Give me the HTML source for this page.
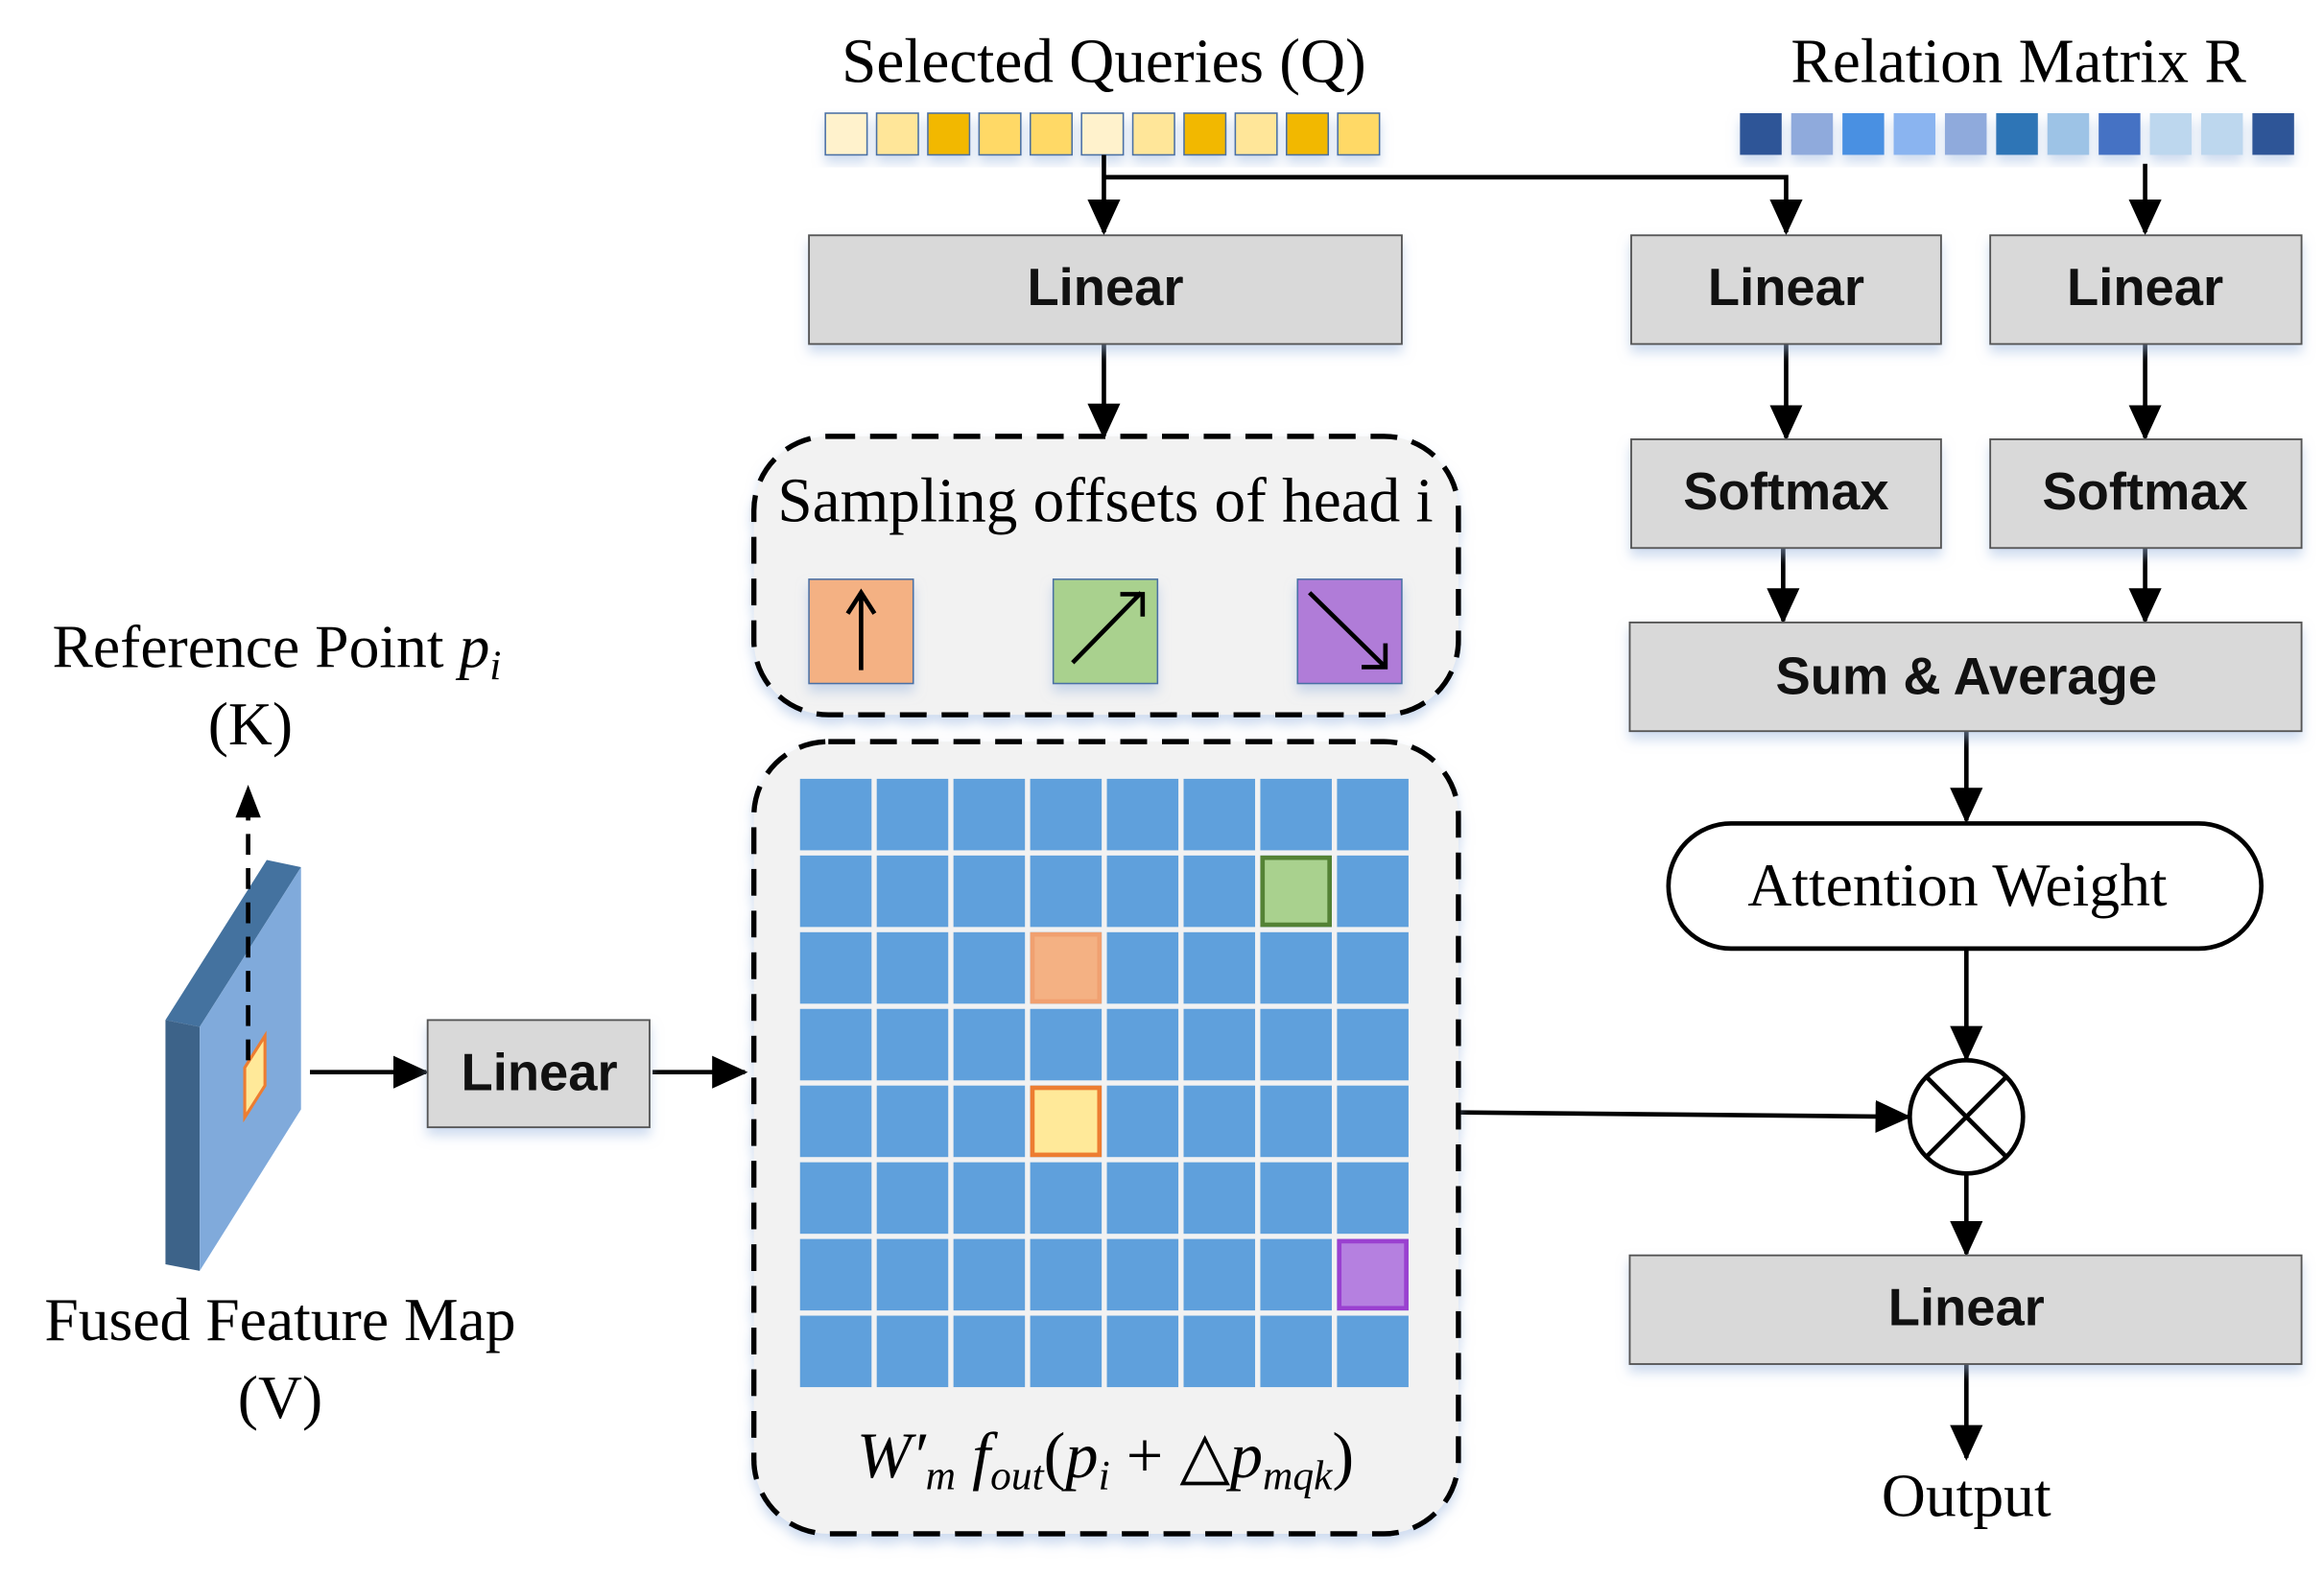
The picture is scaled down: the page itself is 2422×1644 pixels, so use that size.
<!DOCTYPE html>
<html><head><meta charset="utf-8"><style>html,body{margin:0;padding:0;background:#fff}svg{display:block}</style></head>
<body>
<svg width="2422" height="1644" viewBox="0 0 1560 1059" xmlns="http://www.w3.org/2000/svg">
<defs>
<marker id="ah2" markerWidth="24" markerHeight="22" refX="22" refY="11" orient="auto" markerUnits="userSpaceOnUse" viewBox="0 0 24 22">
<path d="M0,0 L24,11 L0,22 z" fill="#000"/></marker>
<filter id="sh" x="-10%" y="-10%" width="120%" height="140%"><feDropShadow dx="0" dy="5" stdDeviation="4" flood-color="#9DB8E0" flood-opacity="0.5"/></filter>
</defs>
<g font-family="Liberation Serif, serif" fill="#000">
<text x="741" y="55" font-size="42" text-anchor="middle">Selected Queries (Q)</text>
<text x="1355" y="55" font-size="42" text-anchor="middle">Relation Matrix R</text>
</g>
<g stroke="#4A6FA5" stroke-width="1" filter="url(#sh)">
<rect x="554" y="76" width="28" height="28" fill="#FFF2CC"/>
<rect x="588.4" y="76" width="28" height="28" fill="#FFE699"/>
<rect x="622.8" y="76" width="28" height="28" fill="#F2B800"/>
<rect x="657.2" y="76" width="28" height="28" fill="#FFD966"/>
<rect x="691.6" y="76" width="28" height="28" fill="#FFD966"/>
<rect x="726" y="76" width="28" height="28" fill="#FFF2CC"/>
<rect x="760.4" y="76" width="28" height="28" fill="#FFE699"/>
<rect x="794.8" y="76" width="28" height="28" fill="#F2B800"/>
<rect x="829.2" y="76" width="28" height="28" fill="#FFE699"/>
<rect x="863.6" y="76" width="28" height="28" fill="#F2B800"/>
<rect x="898" y="76" width="28" height="28" fill="#FFD966"/>
</g>
<g stroke="none" filter="url(#sh)">
<rect x="1168" y="76" width="28" height="28" fill="#2F5597"/>
<rect x="1202.4" y="76" width="28" height="28" fill="#8FAADC"/>
<rect x="1236.8" y="76" width="28" height="28" fill="#4A90E2"/>
<rect x="1271.2" y="76" width="28" height="28" fill="#8AB4F0"/>
<rect x="1305.6" y="76" width="28" height="28" fill="#8FAADC"/>
<rect x="1340" y="76" width="28" height="28" fill="#2E75B6"/>
<rect x="1374.4" y="76" width="28" height="28" fill="#9DC3E6"/>
<rect x="1408.8" y="76" width="28" height="28" fill="#4472C4"/>
<rect x="1443.2" y="76" width="28" height="28" fill="#BDD7EE"/>
<rect x="1477.6" y="76" width="28" height="28" fill="#BDD7EE"/>
<rect x="1512" y="76" width="28" height="28" fill="#2F5597"/>
</g>

<g stroke="#000" stroke-width="3" fill="none">
<path d="M741,104 V156" marker-end="url(#ah2)"/>
<path d="M741,119 H1199 V156" marker-end="url(#ah2)"/>
<path d="M1440,110 V156" marker-end="url(#ah2)"/>
<path d="M741,231 V293" marker-end="url(#ah2)"/>
<path d="M1199,231 V294" marker-end="url(#ah2)"/>
<path d="M1440,231 V294" marker-end="url(#ah2)"/>
<path d="M1197,368 V417" marker-end="url(#ah2)"/>
<path d="M1440,368 V417" marker-end="url(#ah2)"/>
<path d="M1320,491 V551" marker-end="url(#ah2)"/>
<path d="M1320,637 V711" marker-end="url(#ah2)"/>
<path d="M980,747 L1281,750" marker-end="url(#ah2)"/>
<path d="M1320,788 V842" marker-end="url(#ah2)"/>
<path d="M1320,916 V979" marker-end="url(#ah2)"/>
<path d="M208,720 H286" marker-end="url(#ah2)"/>
<path d="M438,720 H500" marker-end="url(#ah2)"/>
</g>

<g fill="#D9D9D9" stroke="#555" stroke-width="1.2" filter="url(#sh)">
<rect x="543" y="158" width="398" height="73"/>
<rect x="1095" y="158" width="208" height="73"/>
<rect x="1336" y="158" width="209" height="73"/>
<rect x="1095" y="295" width="208" height="73"/>
<rect x="1336" y="295" width="209" height="73"/>
<rect x="1094" y="418" width="451" height="73"/>
<rect x="1094" y="843" width="451" height="73"/>
<rect x="287" y="685" width="149" height="72"/>
</g>
<g font-family="Liberation Sans, sans-serif" font-weight="bold" font-size="35" text-anchor="middle" fill="#111">
<text x="742" y="205">Linear</text>
<text x="1199" y="205">Linear</text>
<text x="1440" y="205">Linear</text>
<text x="1199" y="342">Softmax</text>
<text x="1440" y="342">Softmax</text>
<text x="1320" y="466">Sum &amp; Average</text>
<text x="1320" y="890">Linear</text>
<text x="362" y="732">Linear</text>
</g>

<rect x="1120" y="553" width="398" height="84" rx="42" fill="#fff" stroke="#000" stroke-width="3"/>
<text x="1314" y="608" font-family="Liberation Serif, serif" font-size="41" text-anchor="middle">Attention Weight</text>
<circle cx="1320" cy="750" r="38" fill="#fff" stroke="#000" stroke-width="3"/>
<path d="M1293,723 L1347,777 M1347,723 L1293,777" stroke="#000" stroke-width="3"/>
<text x="1320" y="1018" font-family="Liberation Serif, serif" font-size="41" text-anchor="middle">Output</text>

<rect x="506" y="293" width="473" height="187" rx="50" fill="#F2F2F2" stroke="#000" stroke-width="3.5" stroke-dasharray="18,10" filter="url(#sh)"/>
<text x="742" y="350" font-family="Liberation Serif, serif" font-size="42" text-anchor="middle">Sampling offsets of head i</text>
<g stroke="#4A6FA5" stroke-width="1" filter="url(#sh)">
<rect x="543" y="389" width="70" height="70" fill="#F4B183"/>
<rect x="707" y="389" width="70" height="70" fill="#A9D18E"/>
<rect x="871" y="389" width="70" height="70" fill="#B07CD8"/>
</g>
<g stroke="#000" stroke-width="3" fill="none">
<path d="M578,450 V400 M569,412 L578,398 L587,412"/>
<path d="M720,445 L766,398 M752,399 H767 V414"/>
<path d="M879,398 L930,448 M930,432 V448 H914"/>
</g>

<rect x="506" y="498" width="473" height="532" rx="50" fill="#F2F2F2" stroke="#000" stroke-width="3.5" stroke-dasharray="18,10" filter="url(#sh)"/>
<g fill="#5FA0DC">
<rect x="537" y="523" width="48" height="48"/><rect x="588.5" y="523" width="48" height="48"/><rect x="640" y="523" width="48" height="48"/><rect x="691.5" y="523" width="48" height="48"/><rect x="743" y="523" width="48" height="48"/><rect x="794.5" y="523" width="48" height="48"/><rect x="846" y="523" width="48" height="48"/><rect x="897.5" y="523" width="48" height="48"/>
<rect x="537" y="574.5" width="48" height="48"/><rect x="588.5" y="574.5" width="48" height="48"/><rect x="640" y="574.5" width="48" height="48"/><rect x="691.5" y="574.5" width="48" height="48"/><rect x="743" y="574.5" width="48" height="48"/><rect x="794.5" y="574.5" width="48" height="48"/><rect x="846" y="574.5" width="48" height="48"/><rect x="897.5" y="574.5" width="48" height="48"/>
<rect x="537" y="626" width="48" height="48"/><rect x="588.5" y="626" width="48" height="48"/><rect x="640" y="626" width="48" height="48"/><rect x="691.5" y="626" width="48" height="48"/><rect x="743" y="626" width="48" height="48"/><rect x="794.5" y="626" width="48" height="48"/><rect x="846" y="626" width="48" height="48"/><rect x="897.5" y="626" width="48" height="48"/>
<rect x="537" y="677.5" width="48" height="48"/><rect x="588.5" y="677.5" width="48" height="48"/><rect x="640" y="677.5" width="48" height="48"/><rect x="691.5" y="677.5" width="48" height="48"/><rect x="743" y="677.5" width="48" height="48"/><rect x="794.5" y="677.5" width="48" height="48"/><rect x="846" y="677.5" width="48" height="48"/><rect x="897.5" y="677.5" width="48" height="48"/>
<rect x="537" y="729" width="48" height="48"/><rect x="588.5" y="729" width="48" height="48"/><rect x="640" y="729" width="48" height="48"/><rect x="691.5" y="729" width="48" height="48"/><rect x="743" y="729" width="48" height="48"/><rect x="794.5" y="729" width="48" height="48"/><rect x="846" y="729" width="48" height="48"/><rect x="897.5" y="729" width="48" height="48"/>
<rect x="537" y="780.5" width="48" height="48"/><rect x="588.5" y="780.5" width="48" height="48"/><rect x="640" y="780.5" width="48" height="48"/><rect x="691.5" y="780.5" width="48" height="48"/><rect x="743" y="780.5" width="48" height="48"/><rect x="794.5" y="780.5" width="48" height="48"/><rect x="846" y="780.5" width="48" height="48"/><rect x="897.5" y="780.5" width="48" height="48"/>
<rect x="537" y="832" width="48" height="48"/><rect x="588.5" y="832" width="48" height="48"/><rect x="640" y="832" width="48" height="48"/><rect x="691.5" y="832" width="48" height="48"/><rect x="743" y="832" width="48" height="48"/><rect x="794.5" y="832" width="48" height="48"/><rect x="846" y="832" width="48" height="48"/><rect x="897.5" y="832" width="48" height="48"/>
<rect x="537" y="883.5" width="48" height="48"/><rect x="588.5" y="883.5" width="48" height="48"/><rect x="640" y="883.5" width="48" height="48"/><rect x="691.5" y="883.5" width="48" height="48"/><rect x="743" y="883.5" width="48" height="48"/><rect x="794.5" y="883.5" width="48" height="48"/><rect x="846" y="883.5" width="48" height="48"/><rect x="897.5" y="883.5" width="48" height="48"/>
</g>
<rect x="847.5" y="576" width="45" height="45" fill="#A9D18E" stroke="#548235" stroke-width="3"/>
<rect x="693" y="627.5" width="45" height="45" fill="#F4B183" stroke="#F0A070" stroke-width="3"/>
<rect x="693" y="730.5" width="45" height="45" fill="#FFE999" stroke="#ED7D31" stroke-width="3"/>
<rect x="899" y="833.5" width="45" height="45" fill="#B580E0" stroke="#9A40D0" stroke-width="3"/>
<text x="742" y="992" font-family="Liberation Serif, serif" font-size="44" text-anchor="middle" font-style="italic">W′<tspan font-size="28" dy="8">m</tspan><tspan dy="-8"> f</tspan><tspan font-size="28" dy="8">out</tspan><tspan dy="-8" font-style="normal">(</tspan>p<tspan font-size="28" dy="8">i</tspan><tspan dy="-8" font-style="normal"> + △</tspan>p<tspan font-size="28" dy="8">mqk</tspan><tspan dy="-8" font-style="normal">)</tspan></text>

<polygon points="111,685 179,577.5 202,582.3 134,689.6" fill="#44729F"/>
<polygon points="111,685 134,689.6 134,853.4 111,849" fill="#3D6389"/>
<polygon points="134,689.6 202,582.3 202,745 134,853.4" fill="#80AADB"/>
<polygon points="164.2,717 177.8,695.6 177.8,729 164.2,750.4" fill="#FFE999" stroke="#ED7D31" stroke-width="2"/>
<path d="M166.5,712 V548" stroke="#000" stroke-width="3" stroke-dasharray="14,9" fill="none"/>
<path d="M158,549 L166.5,527 L175,549 z" fill="#000"/>
<g font-family="Liberation Serif, serif" font-size="41" fill="#000">
<text x="35" y="448">Reference Point  <tspan font-style="italic">p</tspan><tspan font-style="italic" font-size="28" dy="8">i</tspan></text>
<text x="168" y="500" text-anchor="middle">(K)</text>
<text x="188" y="900" text-anchor="middle">Fused Feature Map</text>
<text x="188" y="952" text-anchor="middle">(V)</text>
</g>
</svg>
</body></html>
